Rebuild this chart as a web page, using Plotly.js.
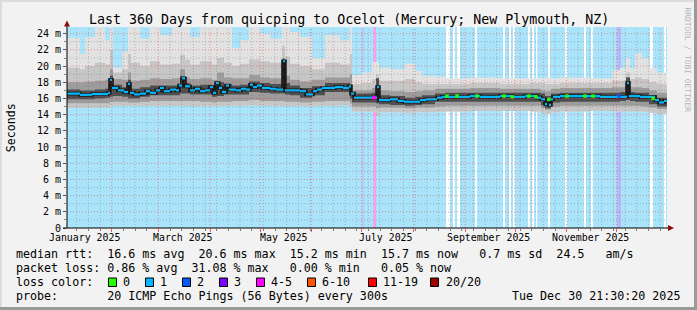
<!DOCTYPE html>
<html><head><meta charset="utf-8">
<script src="https://cdn.plot.ly/plotly-3.0.1.min.js"></script>
<style>
html,body{margin:0;padding:0;background:#f2f2f2;}
#wrap{position:relative;width:697px;height:310px;overflow:hidden;background:#f2f2f2;}
#chart{position:absolute;left:0;top:0;width:697px;height:310px;}
.b{position:absolute;}
</style></head><body>
<div id="wrap"><div id="chart"></div>
<div class="b" style="left:0;top:0;width:697px;height:2px;background:#dcdcdc"></div>
<div class="b" style="left:0;top:0;width:2px;height:310px;background:#dcdcdc"></div>
<div class="b" style="right:0;top:0;width:3px;height:310px;background:#9a9a9a"></div>
<div class="b" style="left:0;bottom:0;width:697px;height:3px;background:#9a9a9a"></div>
</div>
<script>
// ---------- data ----------
const titleText = 'Last 360 Days from quicping to Ocelot (Mercury; New Plymouth, NZ)';
const monthLabels = ['January 2025','March 2025','May 2025','July 2025','September 2025','November 2025'];
const monthLabelDates = ['2025-01-15 12:00','2025-03-15 12:00','2025-05-15 12:00','2025-07-15 12:00','2025-09-15 00:00','2025-11-15 00:00'];
const yTickVals = [0,2,4,6,8,10,12,14,16,18,20,22,24];
const yTickText = ['0','2 m','4 m','6 m','8 m','10 m','12 m','14 m','16 m','18 m','20 m','22 m','24 m'];

// median rtt (ms), step changes, day offsets from start
const medianDay = [0,7.8,15,24.6,25.8,27,30.6,34.2,36.6,37.8,40.2,43.8,47.4,49.8,53.4,55.8,58.2,61.8,65.4,67.2,69,70.8,73.8,76.8,79.8,82.8,85.8,87.6,89.4,91.2,93,95.4,97.2,101.4,104.4,107.4,109.8,111.6,114,117,121.8,125.4,129.6,130.8,139.8,143.4,147.6,150,153,160.8,165.6,169.2,170.4,172.2,186,187.2,193.8,198.6,202.2,211.8,215.4,222,225,241.8,247.8,259.8,267,274.8,282,284.4,286.8,288,289.2,290.4,291.6,295.8,319.8,336,337.2,343.8,352.8,355.2,358.2,360];
const medianVal = [16.6,16.45,16.55,16.7,18.3,17.3,17.0,16.8,17.8,16.7,16.5,16.6,16.9,16.7,17.0,17.3,16.9,17.1,17.0,17.6,18.5,17.5,17.0,17.2,16.9,17.0,17.4,16.7,17.9,17.3,16.8,17.6,17.1,17.0,17.2,17.1,17.7,17.4,17.6,17.3,17.2,17.1,20.6,17.0,16.9,16.5,16.9,17.1,17.3,17.4,17.3,17.5,16.6,16.1,17.4,15.8,15.9,15.7,15.6,15.8,15.9,16.1,16.2,16.3,16.2,16.3,16.2,16.3,16.1,15.9,15.3,15.8,15.2,15.9,16.2,16.3,16.2,17.9,16.3,16.2,15.8,15.5,15.7,15.7];

// smoke envelope (ms)
const smokeDay = [0,7.8,10.8,16.8,22.8,25.8,27.6,33,36.6,38.4,43.8,49.8,55.8,63,67.8,70.8,73.8,79.8,87,90,94.2,99,103.8,109.2,115.8,121.8,129,130.8,133.8,139.8,147,154.8,163.8,169.8,171,177,183,185.4,187.2,193.8,202.8,208.8,213,220.8,226.8,241.8,259.8,277.8,284.4,286.8,290.4,295.8,313.8,327,331.8,335.4,337.8,340.8,345,349.2,354,360];
const smokeTop = [23.5,21.5,23.6,24.8,23.2,24.8,19.8,21.8,24.8,24.8,23.4,24.8,23.8,24.8,24.8,24.8,23.6,24.8,24.8,24.8,24.8,22.2,23.2,24.8,24.0,23.4,24.8,24.8,24.2,23.6,21.0,23.8,23.2,24.8,18.9,19.2,20.5,20.5,19.8,19.6,20.3,19.4,18.8,18.7,18.5,18.6,18.5,18.5,18.6,18.6,18.5,18.6,18.5,19.5,19.8,21.0,19.7,21.6,21.0,19.7,19.2,19.2];
const smokeHi1 = [19.8,19.6,20.0,20.4,20.2,22.0,19.2,19.6,21.5,20.4,20.0,20.6,20.2,20.3,21.4,20.8,20.2,20.6,20.2,21.0,20.4,20.0,20.3,20.8,20.6,20.4,22.5,21.2,20.3,20.0,19.6,20.4,20.2,21.5,17.8,17.9,18.4,19.0,18.2,18.2,18.4,18.0,17.8,17.8,17.8,17.9,17.8,17.9,17.9,17.8,17.8,17.9,17.9,18.2,18.2,19.2,18.4,18.6,18.4,18.0,17.8,17.8];
const smokeHi2 = [18.0,18.0,18.1,18.2,18.3,19.6,18.4,18.3,19.2,18.2,18.3,18.5,18.4,18.5,19.6,18.6,18.4,18.5,18.3,19.2,18.6,18.5,18.5,18.9,18.6,18.5,21.0,18.8,18.3,18.1,18.3,18.6,18.6,19.0,17.0,17.0,17.3,18.4,17.0,16.9,16.8,16.9,17.0,17.2,17.2,17.3,17.2,17.2,17.0,16.9,17.2,17.3,17.3,17.4,17.4,18.6,17.4,17.4,17.3,17.0,16.7,16.7];
const smokeHi3 = [17.1,17.0,17.0,17.1,17.2,18.8,17.7,17.4,18.3,17.2,17.4,17.6,17.6,17.6,18.7,17.9,17.6,17.7,17.5,18.0,17.8,17.6,17.7,18.1,17.9,17.8,20.8,17.9,17.6,17.3,17.5,17.9,17.9,17.5,16.6,16.6,16.7,18.5,16.4,16.3,16.1,16.2,16.4,16.6,16.7,16.7,16.7,16.7,16.6,16.3,16.6,16.7,16.7,16.7,16.8,18.6,16.8,16.7,16.7,16.4,16.1,16.1];
const smokeLo3 = [15.9,15.9,15.9,16.0,16.1,16.2,16.3,16.2,16.0,16.0,16.2,16.4,16.4,16.4,16.6,16.6,16.5,16.5,16.2,16.3,16.5,16.5,16.5,16.8,16.7,16.6,16.6,16.5,16.4,16.1,16.4,16.8,16.8,16.0,15.5,15.5,15.5,15.4,15.3,15.2,15.1,15.2,15.3,15.6,15.6,15.6,15.6,15.6,15.2,14.8,15.5,15.6,15.6,15.6,15.7,15.8,15.7,15.6,15.6,15.3,15.0,15.0];
const smokeLo2 = [15.4,15.4,15.4,15.4,15.4,15.6,15.6,15.6,15.5,15.5,15.6,15.7,15.7,15.7,15.7,15.7,15.7,15.6,15.5,15.6,15.6,15.7,15.7,15.8,15.7,15.7,15.7,15.6,15.6,15.5,15.6,15.7,15.7,15.4,15.0,15.0,15.0,14.8,14.9,14.9,14.8,14.9,14.9,15.0,15.1,15.1,15.1,15.1,14.8,14.6,15.0,15.1,15.1,15.1,15.1,15.1,15.1,15.1,15.0,14.9,14.7,14.7];
const smokeLo = [14.85,14.85,14.85,14.85,14.85,15.1,15.1,15.1,15.05,15.1,15.1,15.1,15.1,15.1,15.1,15.1,15.05,15.1,15.05,15.1,15.1,15.1,15.1,15.15,15.1,15.1,15.05,15.05,15.1,15.05,15.1,15.1,15.15,14.9,14.4,14.4,14.35,13.8,14.3,14.3,14.25,14.3,14.3,14.35,14.4,14.45,14.45,14.4,14.2,14.1,14.3,14.4,14.45,14.4,14.4,14.4,14.4,14.4,14.35,14.2,14.1,14.1];

// loss level of individual median samples (non-default colour)
const lossDay = [184.2,228,234,246,262.2,267,277.2,281.4,289.2,300,310.8,315.6,331.2,351.6];
const lossVal = [16.1,16.3,16.3,16.3,16.3,16.2,16.3,16.2,15.9,16.3,16.3,16.3,16.3,16.0];
const lossLevel = ['4-5','0','0','0','0','0','0','0','0','0','0','0','2','0'];

// background loss periods (day offset, length in days, level)
const bgDay = [177.3,183.8,227.4,231.6,234,244.8,261.6,265.2,267.6,276.6,279,281.4,288.6,298.8,310.2,314.4,330,349.8,358.2];
const bgLen = [0.6,1.6,2.4,1.2,1.8,1.2,1.2,1.2,1.2,1.2,1.2,0.8,1.2,1.2,1.2,1.2,2.4,1.8,1.2];
const bgLevel = ['3','4-5','0','0','0','0','0','0','0','0','0','0','0','0','0','0','2','0','0'];

const legendLevels = ['0','1','2','3','4-5','6-10','11-19','20/20'];
const statsRow1 = 'median rtt:  16.6 ms avg  20.6 ms max  15.2 ms min  15.7 ms now   0.7 ms sd  24.5   am/s';
const statsRow2 = 'packet loss: 0.86 % avg  31.08 % max   0.00 % min   0.05 % now';
const probeRow = 'probe:       20 ICMP Echo Pings (56 Bytes) every 300s';
const stampText = 'Tue Dec 30 21:30:20 2025';

// ---------- styling / helpers ----------
const lossColors = {'0':'#26ff00','1':'#00b8ff','2':'#0059ff','3':'#7e00ff','4-5':'#ff00ff','6-10':'#ff5500','11-19':'#ff0000','20/20':'#a10000'};
const bgColors = {'0':'#ffffff','2':'#b9b6fb','3':'#d2a9f6','4-5':'#ff9cf0'};
const DAY = 86400000;
const t0 = Date.UTC(2025,0,5,4,20);
const tEnd = t0 + 360*DAY;
function iso(ms){return new Date(ms).toISOString().slice(0,19).replace('T',' ');}
function dx(d){return iso(t0 + d*DAY);}
const PX = p => (p-67)/600;
const PY = p => (228-p)/201;
const nb = s => s.replace(/ /g,'\u00a0');
const MONO = 'DejaVu Sans Mono';

const sx = smokeDay.map(dx);
function band(arr, fill, color){
  return {x:sx, y:arr, type:'scatter', mode:'lines', line:{width:0, shape:'hv'},
    fill: fill ? 'tonexty' : 'none', fillcolor: color, hoverinfo:'skip', showlegend:false};
}
// median as separate horizontal pieces (coloured), over a dark stepped line
const segX = [], segY = [];
for(let i=0;i<medianDay.length-1;i++){
  segX.push(dx(medianDay[i]), dx(medianDay[i+1]), null);
  segY.push(medianVal[i], medianVal[i], null);
}
const traces = [
  band(smokeLo,false), band(smokeTop,true,'#e2e2e2'),
  band(smokeLo,false), band(smokeHi1,true,'#c6c6c6'),
  band(smokeLo2,false), band(smokeHi2,true,'#9c9c9c'),
  band(smokeLo3,false), band(smokeHi3,true,'#4e4e4e'),
  {x:medianDay.map(dx), y:medianVal, type:'scatter', mode:'lines',
   line:{color:'#1a1a1a', width:3.6, shape:'hv'}, hoverinfo:'skip', showlegend:false},
  {x:segX, y:segY, type:'scatter', mode:'lines', connectgaps:false,
   line:{color:lossColors['1'], width:2.2}, hoverinfo:'skip', showlegend:false},
  {x:lossDay.map(dx), y:lossVal, type:'scatter', mode:'markers',
   marker:{symbol:'square', size:3.5, color:lossLevel.map(l=>lossColors[l]), line:{width:0}},
   hoverinfo:'skip', showlegend:false}
];

const shapes = [];
// background loss periods
bgDay.forEach((d,i)=>{
  shapes.push({type:'rect', layer:'below', xref:'x', yref:'paper', x0:dx(d), x1:dx(d+bgLen[i]), y0:0, y1:1,
    fillcolor:bgColors[bgLevel[i]], line:{width:0}});
});
// grid (drawn over the graph, like rrdtool)
const gridMinor = 'rgba(110,110,110,0.42)', gridMajor = 'rgba(240,60,60,0.5)';
const monthStarts = [];
for(let m=1;m<12;m++) monthStarts.push(Date.UTC(2025,m,1));
for(let t=Date.UTC(2025,0,11); t<tEnd; t+=7*DAY){
  if(monthStarts.indexOf(t)>=0) continue;
  shapes.push({type:'line', layer:'above', xref:'x', yref:'paper', x0:iso(t), x1:iso(t), y0:0, y1:1,
    line:{color:gridMinor, width:1, dash:'1px,2px'}});
}
monthStarts.forEach(t=>{
  shapes.push({type:'line', layer:'above', xref:'x', yref:'paper', x0:iso(t), x1:iso(t), y0:0, y1:1,
    line:{color:gridMajor, width:1, dash:'1px,2px'}});
});
for(let v=1; v<=24; v++){
  shapes.push({type:'line', layer:'above', xref:'paper', yref:'y', x0:0, x1:1, y0:v, y1:v,
    line:{color: v%2 ? gridMinor : gridMajor, width:1, dash:'1px,2px'}});
}
// axes lines and arrows
shapes.push({type:'line', layer:'above', xref:'paper', yref:'paper', x0:PX(67), x1:PX(67), y0:PY(228), y1:PY(22), line:{color:'#000', width:1}});
shapes.push({type:'line', layer:'above', xref:'paper', yref:'paper', x0:PX(63), x1:PX(670), y0:PY(228), y1:PY(228), line:{color:'#000', width:1}});
shapes.push({type:'path', layer:'above', xref:'paper', yref:'paper',
  path:`M ${PX(64)} ${PY(26.5)} L ${PX(70)} ${PY(26.5)} L ${PX(67)} ${PY(20.5)} Z`, fillcolor:'#8b0e0e', line:{width:0}});
shapes.push({type:'path', layer:'above', xref:'paper', yref:'paper',
  path:`M ${PX(668)} ${PY(225)} L ${PX(668)} ${PY(231)} L ${PX(674)} ${PY(228)} Z`, fillcolor:'#8b0e0e', line:{width:0}});

// legend colour boxes
const boxLeft = [108.5,145.5,182.5,219.5,256.5,307.5,368.5,430.5];
const boxLabelX = [123,160,197,234,271,322,383,446];
legendLevels.forEach((l,i)=>{
  shapes.push({type:'rect', layer:'above', xref:'paper', yref:'paper', x0:PX(boxLeft[i]), x1:PX(boxLeft[i]+8), y0:PY(286.5), y1:PY(278),
    fillcolor:lossColors[l], line:{color:'#000', width:1}});
});

const ann = [];
function txt(text, xpx, ypx, opts){
  ann.push(Object.assign({text:nb(text), xref:'paper', yref:'paper', x:PX(xpx), y:PY(ypx), xanchor:'left', yanchor:'middle',
    showarrow:false, borderpad:0, borderwidth:0, font:{family:MONO, size:11.66, color:'#000'}}, opts||{}));
}
txt(titleText, 349, 19.3, {xanchor:'center', font:{family:MONO, size:13.3, color:'#000'}});
txt('Seconds', 10.7, 127.5, {xanchor:'center', textangle:-90, font:{family:MONO, size:11.6, color:'#000'}});
txt('RRDTOOL / TOBI OETIKER', 687.5, 60, {xanchor:'center', textangle:90, font:{family:MONO, size:7.9, color:'#b4b4b4'}});
txt(statsRow1, 16, 254.3);
txt(statsRow2, 16, 268.3);
txt('loss color:', 16, 282.3);
legendLevels.forEach((l,i)=> txt(l, boxLabelX[i], 282.3));
txt(probeRow, 16, 296);
txt(stampText, 680, 296, {xanchor:'right'});
monthLabels.forEach((m,i)=>{
  ann.push({text:nb(m), xref:'x', yref:'paper', x:monthLabelDates[i], y:PY(237.7), xanchor:'center', yanchor:'middle',
    showarrow:false, borderpad:0, borderwidth:0, font:{family:MONO, size:9.9, color:'#000'}});
});

const layout = {
  width:697, height:310, margin:{l:67, r:30, t:27, b:82, pad:0},
  paper_bgcolor:'rgba(0,0,0,0)', plot_bgcolor:'#a9e4fb', showlegend:false,
  xaxis:{type:'date', range:[iso(t0), iso(tEnd)], showgrid:false, zeroline:false, showline:false,
    showticklabels:false, ticks:'outside', ticklen:3, tickcolor:'#e06060', tick0:'2025-02-01', dtick:'M1',
    minor:{ticks:'outside', ticklen:2, tickcolor:'#777', dtick:7*DAY, tick0:'2025-01-11', showgrid:false}},
  yaxis:{range:[0,24.83], tickvals:yTickVals, ticktext:yTickText, showgrid:false, zeroline:false, showline:false,
    ticks:'outside', ticklen:3, tickcolor:'#555', tickfont:{family:MONO, size:10, color:'#000'},
    minor:{ticks:'outside', ticklen:2, tickcolor:'#888', dtick:1, showgrid:false}},
  shapes:shapes, annotations:ann
};
Plotly.newPlot('chart', traces, layout, {staticPlot:true, displayModeBar:false});
</script></body></html>
